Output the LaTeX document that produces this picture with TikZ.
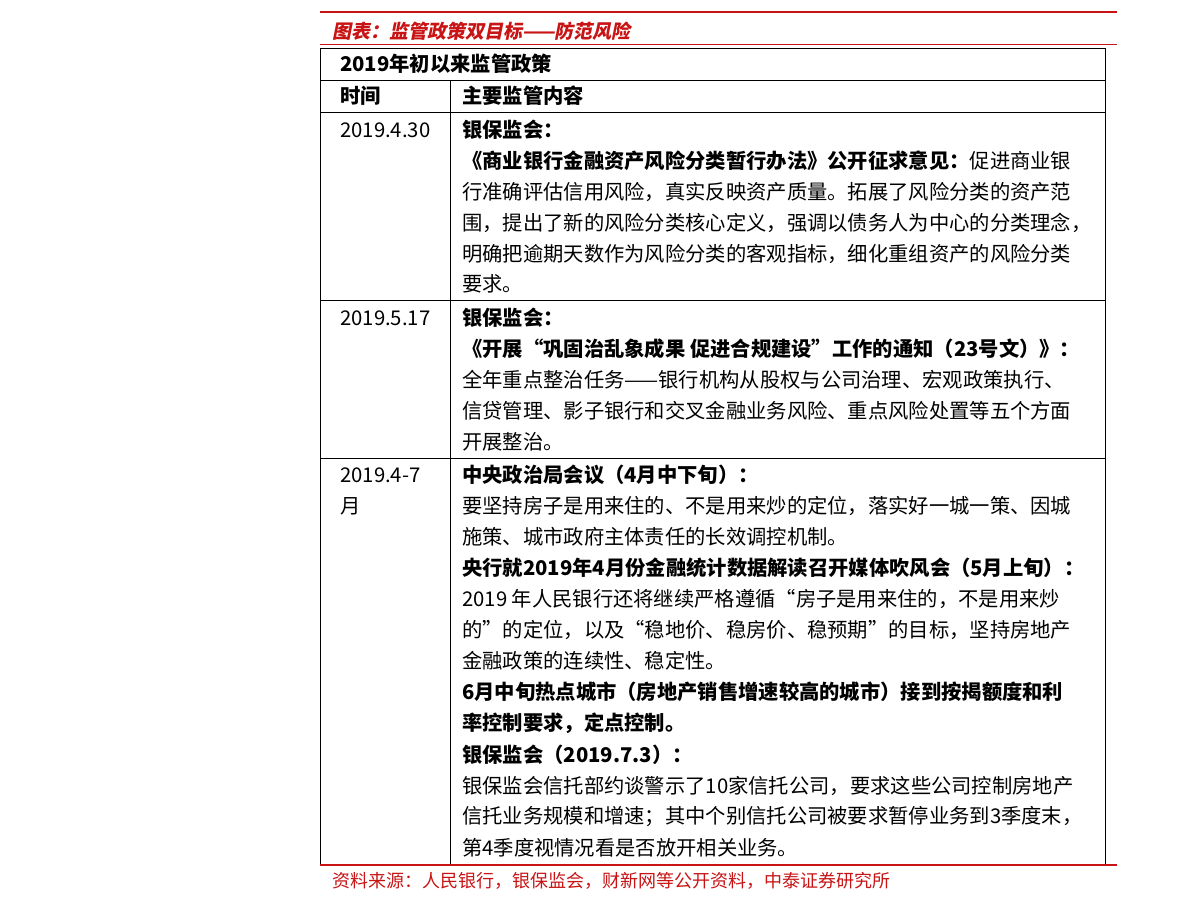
\documentclass[tikz,border=0pt]{standalone}
\usepackage{fontspec}
\newfontfamily\cjk{Noto Sans CJK SC}
\newfontfamily\cjkslant[FakeSlant=0.2]{Noto Sans CJK SC}
\tikzset{
  cell/.style={anchor=west,inner sep=0pt,font=\cjk\fontsize{20.3}{20}\selectfont},
  cellb/.style={cell,font=\cjk\bfseries\fontsize{20.3}{20}\selectfont},
  red note/.style={anchor=west,inner sep=0pt,text=redline,font=\cjk\fontsize{18}{18}\selectfont}
}
\definecolor{redline}{RGB}{200,20,20}
\begin{document}
\begin{tikzpicture}[x=1pt,y=-1pt]
\useasboundingbox (0,0) rectangle (1191,910);
% Frame
\draw[redline,line width=2pt] (320,12) -- (1117,12);
\node[red note,font=\cjkslant\bfseries\fontsize{19}{19}\selectfont] (title) at (332,31) {图表：监管政策双目标——防范风险};
\draw[redline,line width=0.8pt] (320,44) -- (1117,44);
\draw[thin] (320,48) rectangle (1105,865);
\draw[thin] (320,80) -- (1105,80);
\draw[thin] (320,112) -- (1105,112);
\draw[thin] (320,300) -- (1105,300);
\draw[thin] (320,458) -- (1105,458);
\draw[thin] (450,80) -- (450,865);
\draw[redline,line width=1.5pt] (320,865) -- (1117,865);
% Header
\node[cellb] (head) at (340,64) {2019年初以来监管政策};
\node[cellb] (colA) at (340,96) {时间};
\node[cellb] (colB) at (462,96) {主要监管内容};
% Row 1
\node[cell] (dateA) at (340,130) {2019.4.30};
\node[cellb] (a1) at (462,130) {银保监会：};
\node[cell] (a2) at (462,161) {\textbf{《商业银行金融资产风险分类暂行办法》公开征求意见：}促进商业银};
\node[cell] (a3) at (462,192) {行准确评估信用风险，真实反映资产质量。拓展了风险分类的资产范};
\node[cell] (a4) at (462,223) {围，提出了新的风险分类核心定义，强调以债务人为中心的分类理念，};
\node[cell] (a5) at (462,254) {明确把逾期天数作为风险分类的客观指标，细化重组资产的风险分类};
\node[cell] (a6) at (462,284) {要求。};
% Row 2
\node[cell] (dateB) at (340,318) {2019.5.17};
\node[cellb] (b1) at (462,318) {银保监会：};
\node[cellb] (b2) at (462,349) {《开展“巩固治乱象成果 促进合规建设”工作的通知（23号文）》：};
\node[cell] (b3) at (462,380) {全年重点整治任务——银行机构从股权与公司治理、宏观政策执行、};
\node[cell] (b4) at (462,411) {信贷管理、影子银行和交叉金融业务风险、重点风险处置等五个方面};
\node[cell] (b5) at (462,442) {开展整治。};
% Row 3
\node[cell] (dateC) at (340,475) {2019.4-7};
\node[cell] (dateD) at (340,506) {月};
\node[cellb] (c1) at (462,475) {中央政治局会议（4月中下旬）：};
\node[cell] (c2) at (462,506) {要坚持房子是用来住的、不是用来炒的定位，落实好一城一策、因城};
\node[cell] (c3) at (462,537) {施策、城市政府主体责任的长效调控机制。};
\node[cellb] (c4) at (462,568) {央行就2019年4月份金融统计数据解读召开媒体吹风会（5月上旬）：};
\node[cell] (c5) at (462,599) {2019 年人民银行还将继续严格遵循“房子是用来住的，不是用来炒};
\node[cell] (c6) at (462,630) {的”的定位，以及“稳地价、稳房价、稳预期”的目标，坚持房地产};
\node[cell] (c7) at (462,661) {金融政策的连续性、稳定性。};
\node[cellb] (c8) at (462,692) {6月中旬热点城市（房地产销售增速较高的城市）接到按揭额度和利};
\node[cellb] (c9) at (462,723) {率控制要求，定点控制。};
\node[cellb] (c10) at (462,755) {银保监会（2019.7.3）：};
\node[cell] (c11) at (462,786) {银保监会信托部约谈警示了10家信托公司，要求这些公司控制房地产};
\node[cell] (c12) at (462,817) {信托业务规模和增速；其中个别信托公司被要求暂停业务到3季度末，};
\node[cell] (c13) at (462,848) {第4季度视情况看是否放开相关业务。};
% Source
\node[red note] (src) at (332,881) {资料来源：人民银行，银保监会，财新网等公开资料，中泰证券研究所};
\end{tikzpicture}
\end{document}
